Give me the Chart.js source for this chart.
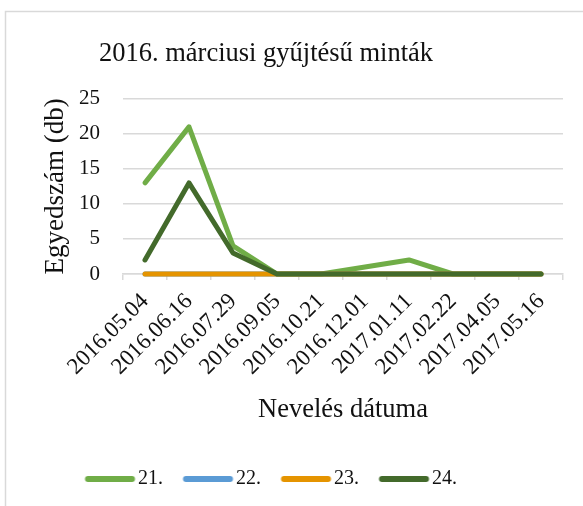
<!DOCTYPE html>
<html>
<head>
<meta charset="utf-8">
<script src="https://cdn.jsdelivr.net/npm/chart.js@4.4.1/dist/chart.umd.min.js"></script>
<style>
  html, body { margin: 0; padding: 0; background: #fff; }
</style>
</head>
<body>
<canvas id="chart" width="583" height="506"></canvas>
<script>
// adatok
const dates = ['2016.05.04', '2016.06.16', '2016.07.29', '2016.09.05', '2016.10.21',
               '2016.12.01', '2017.01.11', '2017.02.22', '2017.04.05', '2017.05.16'];
const s21 = [13, 21, 4, 0, 0, 1, 2, 0, 0, 0];
const s22 = [0, 0, 0, 0, 0, 0, 0, 0, 0, 0];
const s23 = [0, 0, 0, 0, 0, 0, 0, 0, 0, 0];
const s24 = [2, 13, 3, 0, 0, 0, 0, 0, 0, 0];
const seriesNames = ['21.', '22.', '23.', '24.'];
const colors = ['#70AD47', '#5B9BD5', '#E59400', '#436A2B'];

const serif = 'Liberation Serif';
const ink = '#111';

function makeSet(i, values) {
  return {
    label: seriesNames[i],
    data: values,
    borderColor: colors[i],
    backgroundColor: colors[i],
    borderWidth: 5,
    borderCapStyle: 'round',
    borderJoinStyle: 'round',
    pointRadius: 0,
    tension: 0,
    clip: false,
    order: 3 - i, // a későbbi sorozat kerül felülre, mint az Excelben
  };
}

// jelmagyarázat vonalai: kis vászon, hogy a szöveg közelebb legyen a vonalhoz
const markBox = 43;
function legendMark(color) {
  const cv = document.createElement('canvas');
  cv.width = 60;
  cv.height = 10;
  const c = cv.getContext('2d');
  c.strokeStyle = color;
  c.lineWidth = 6;
  c.lineCap = 'round';
  c.beginPath();
  c.moveTo(8.5 + 3, 5);
  c.lineTo(58.5 - 3, 5);
  c.stroke();
  return cv;
}
const marks = colors.map(legendMark);

// keret + a cím és a jelmagyarázat középre igazítása
const frame = {
  id: 'frame',
  afterLayout(chart) {
    chart.titleBlock.left = 5;
    chart.titleBlock.right = 527;
    chart.legend.left = 5;
    chart.legend.right = 537;
  },
  beforeDraw(chart) {
    const c = chart.ctx;
    c.save();
    c.fillStyle = '#fff';
    c.fillRect(0, 0, chart.width, chart.height);
    c.strokeStyle = '#D9D9D9';
    c.lineWidth = 1.5;
    c.strokeRect(5.5, 11.5, 700, 600);
    c.restore();
  }
};

new Chart(document.getElementById('chart'), {
  type: 'line',
  data: {
    labels: dates,
    datasets: [makeSet(0, s21), makeSet(1, s22), makeSet(2, s23), makeSet(3, s24)],
  },
  options: {
    responsive: false,
    animation: false,
    layout: { padding: { left: 5, right: 20, top: 0, bottom: 7 } },
    plugins: {
      title: {
        display: true,
        text: '2016. márciusi gyűjtésű minták',
        color: ink,
        font: { family: serif, size: 26.5, weight: 'normal' },
        padding: { top: 38, bottom: 29 },
      },
      legend: {
        position: 'bottom',
        labels: {
          usePointStyle: true,
          pointStyleWidth: markBox,
          padding: 20,
          color: ink,
          font: { family: serif, size: 20 },
          generateLabels(chart) {
            const items = Chart.defaults.plugins.legend.labels.generateLabels(chart);
            items.forEach(it => { it.pointStyle = marks[it.datasetIndex]; });
            return items.sort((a, b) => a.datasetIndex - b.datasetIndex);
          },
        },
      },
      tooltip: { enabled: false },
    },
    scales: {
      x: {
        offset: true,
        afterFit(scale) { scale.height = 175; },
        grid: { offset: true, drawOnChartArea: false, drawTicks: true, tickLength: 6, color: '#D9D9D9', lineWidth: 1.5 },
        border: { display: true, color: '#D9D9D9', width: 1.5 },
        ticks: { color: ink, font: { family: serif, size: 23 }, minRotation: 45, maxRotation: 45, padding: 8, autoSkip: false },
        title: {
          display: true,
          text: 'Nevelés dátuma',
          color: ink,
          font: { family: serif, size: 26.5 },
          padding: { top: 10, bottom: 23 },
        },
      },
      y: {
        min: 0,
        max: 25,
        afterFit(scale) { scale.width = 118; },
        grid: { color: '#D9D9D9', lineWidth: 1.5, drawTicks: false },
        border: { display: false },
        ticks: { stepSize: 5, color: ink, font: { family: serif, size: 21 }, padding: 23 },
        title: {
          display: true,
          text: 'Egyedszám (db)',
          color: ink,
          font: { family: serif, size: 27 },
          padding: { top: 35, bottom: 0 },
        },
      },
    },
  },
  plugins: [frame],
});
</script>
</body>
</html>
